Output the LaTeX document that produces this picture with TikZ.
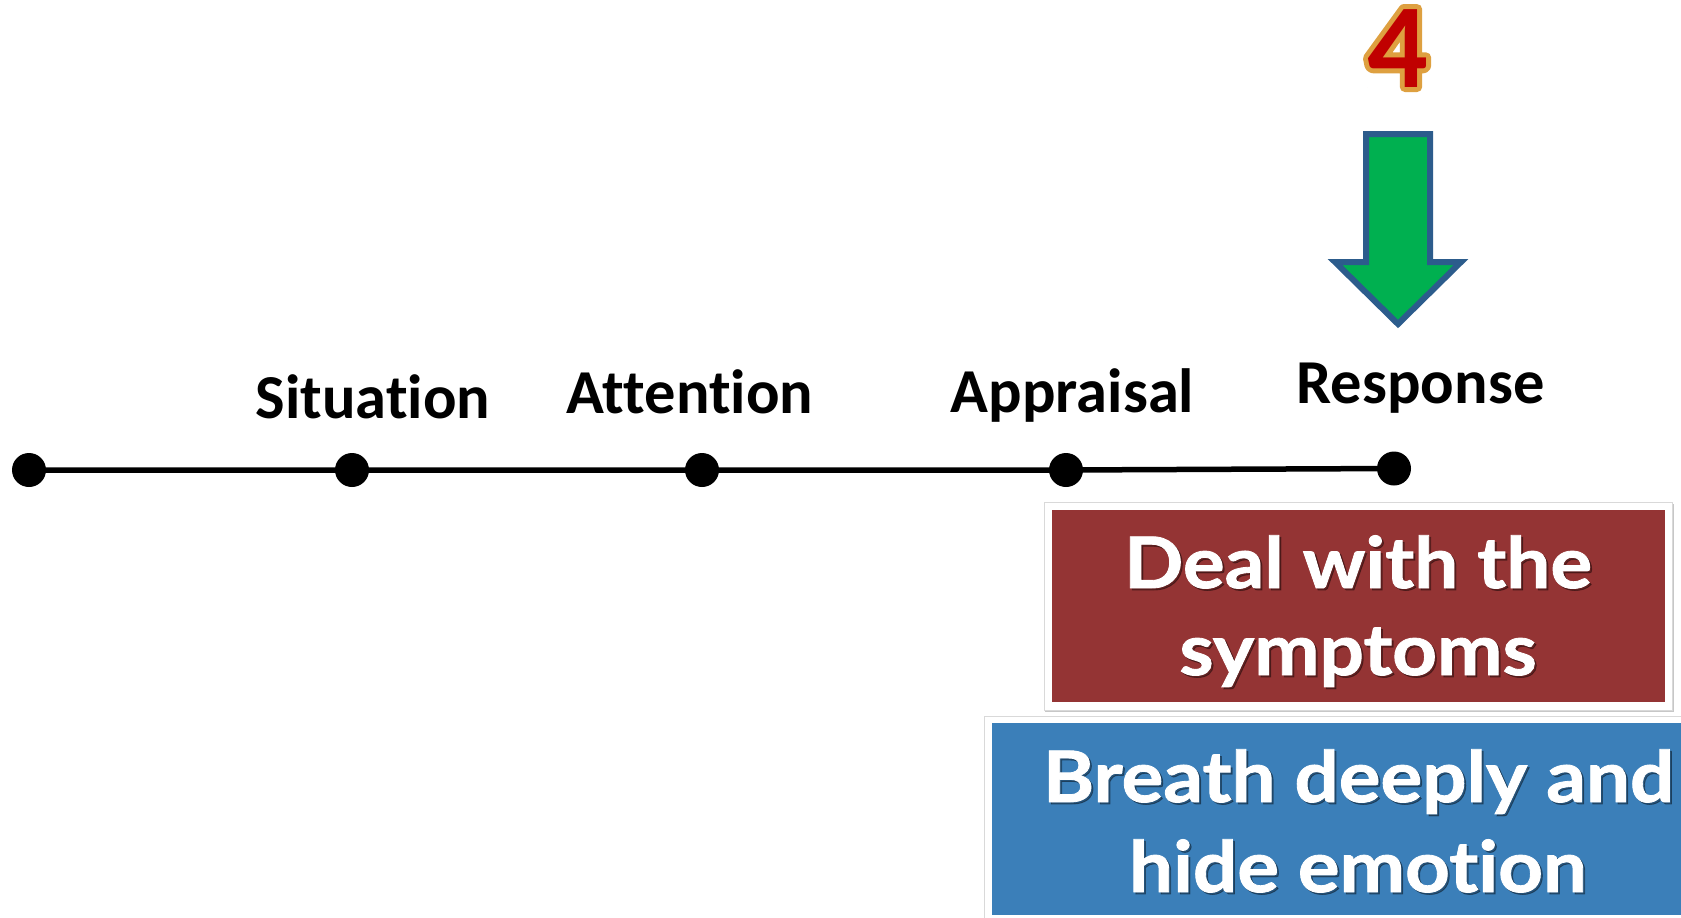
\documentclass[tikz,border=0pt]{standalone}
\usepackage{fontspec}
\setmainfont{Carlito}[Ligatures=NoCommon]
\newfontfamily\boxfont{Lato}[Ligatures=NoCommon,FakeStretch=1.1,BoldFeatures={FakeBold=1.2,FakeStretch=1.1}]
\definecolor{boxred}{RGB}{148,52,52}
\definecolor{boxblue}{RGB}{59,127,185}
\definecolor{arrgreen}{RGB}{0,176,80}
\definecolor{arrblue}{RGB}{44,92,140}
\definecolor{fourred}{RGB}{192,0,0}
\definecolor{fourgold}{RGB}{222,160,64}
\begin{document}
\begin{tikzpicture}[x=1pt,y=-1pt,
  dot/.style={circle,fill=black,inner sep=0pt,minimum size=34pt},
  lbl/.style={anchor=base,inner sep=0pt,font=\fontsize{62.5}{70}\selectfont\bfseries},
  boxtxt/.style={anchor=base,inner sep=0pt,text=white,font=\boxfont\fontsize{71}{80}\selectfont\bfseries},
  boxshadow/.style={boxtxt,text=black,opacity=0.35},
  fourtxt/.style={anchor=base,inner sep=0pt,font=\fontsize{120}{126}\selectfont\bfseries},
  frame/.style={fill=white,draw=black!15,line width=1pt},
  frameshadow/.style={fill=black!22},
  tline/.style={line width=5.5pt,black}]
\useasboundingbox (0,0) rectangle (1681,918);
\clip (0,0) rectangle (1681,918);
\fill[white] (0,0) rectangle (1681,918);

% timeline
\node[dot] (d0) at (29,470) {};
\node[dot] (d1) at (352,470) {};
\node[dot] (d2) at (702,470) {};
\node[dot] (d3) at (1066,470) {};
\node[dot] (d4) at (1394,468.5) {};
\draw[tline] (d0.center) -- (d1.center) -- (d2.center) -- (d3.center) -- (d4.center);

% labels
\node[lbl] (lsit) at (373,418) {Situation};
\node[lbl] (latt) at (690,413) {Attention};
\node[lbl] (lapp) at (1072.5,412) {Appraisal};
\node[lbl] (lres) at (1420.5,403) {Response};

% the number 4: gold stroked layer under a red layer
\node[fourtxt,text=fourgold] (fourgl) at (1397.5,87)
  {\special{pdf:literal 2 Tr 10 w 1 j}4\special{pdf:literal 0 Tr}};
\node[fourtxt,text=fourred] (four) at (1397.5,87) {4};

% down arrow
\draw[fill=arrgreen,draw=arrblue,line width=6pt,line join=miter]
  (1366,134) -- (1430,134) -- (1430,262) -- (1461,262) -- (1398,324)
  -- (1335,262) -- (1366,262) -- cycle;

% red box
\path[frameshadow] (1045,504) rectangle (1674,712);
\path[frame] (1044,502) rectangle (1672,710);
\path[fill=boxred] (1052,510) rectangle (1665,702);
\node[boxshadow] (r1s) at ([shift={(2,2)}]1358,588) {Deal with the};
\node[boxtxt] (r1) at (1358,588) {Deal with the};
\node[boxshadow] (r2s) at ([shift={(2,2)}]1358,675) {symptoms};
\node[boxtxt] (r2) at (1358,675) {symptoms};

% blue box
\path[frame] (984,716) rectangle (1720,918);
\path[fill=boxblue] (992,723) rectangle (1720,915);
\node[boxshadow] (b1s) at ([shift={(2,2)}]1358.5,802) {Breath deeply and};
\node[boxtxt] (b1) at (1358.5,802) {Breath deeply and};
\node[boxshadow] (b2s) at ([shift={(2,2)}]1358,892) {hide emotion};
\node[boxtxt] (b2) at (1358,892) {hide emotion};
\end{tikzpicture}
\end{document}
